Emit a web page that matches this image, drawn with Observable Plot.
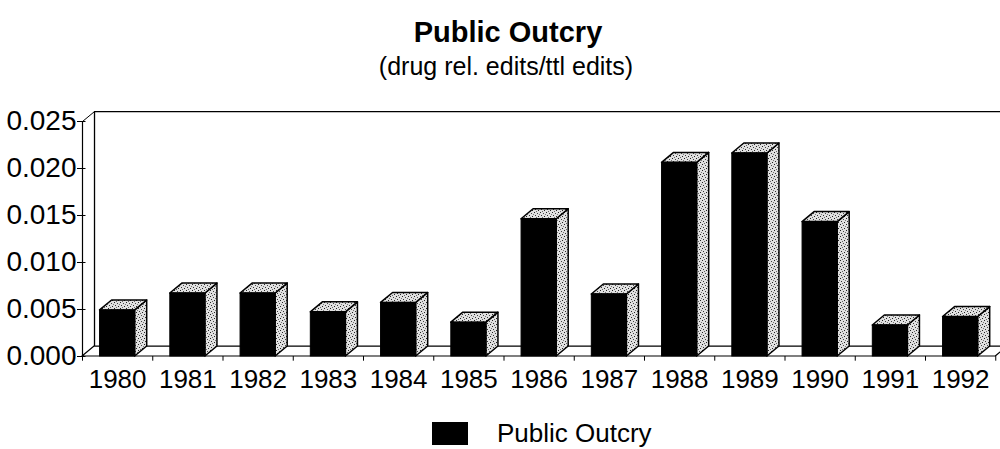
<!DOCTYPE html>
<html>
<head>
<meta charset="utf-8">
<script src="https://cdn.jsdelivr.net/npm/d3@7"></script>
<script src="https://cdn.jsdelivr.net/npm/@observablehq/plot@0.6"></script>
<style>
  html, body { margin: 0; padding: 0; background: #fff; }
  body { width: 1000px; height: 449px; position: relative; overflow: hidden; font-family: "Liberation Sans", Arial, sans-serif; color: #000; }
  .title { position: absolute; left: 8px; width: 1000px; text-align: center; line-height: 1; white-space: nowrap; }
  #t1 { top: 18px; font-size: 29px; font-weight: bold; }
  #t2 { top: 54px; font-size: 25px; left: 6px; }
  #chart { position: absolute; left: 0; top: 80px; }
  #legend { position: absolute; left: 432px; top: 420px; display: flex; align-items: center; font-size: 26px; line-height: 1; }
  #legend .sw { width: 36px; height: 23px; background: #000; margin-right: 29px; }
</style>
</head>
<body>
<svg width="0" height="0" style="position:absolute">
  <defs>
    <pattern id="stipple" width="6" height="6" patternUnits="userSpaceOnUse">
      <rect width="6" height="6" fill="#e0e0e0"/>
      <rect x="0" y="0" width="1" height="1" fill="#222"/>
      <rect x="3" y="1" width="1" height="1" fill="#444"/>
      <rect x="1" y="3" width="1" height="1" fill="#333"/>
      <rect x="4" y="4" width="1" height="1" fill="#222"/>
      <rect x="5" y="2" width="1" height="1" fill="#777"/>
      <rect x="2" y="5" width="1" height="1" fill="#666"/>
    </pattern>
  </defs>
</svg>
<div class="title" id="t1">Public Outcry</div>
<div class="title" id="t2">(drug rel. edits/ttl edits)</div>
<div id="chart"></div>
<div id="legend"><div class="sw"></div><span>Public Outcry</span></div>
<script>
// ---- data ----
const years = [1980, 1981, 1982, 1983, 1984, 1985, 1986, 1987, 1988, 1989, 1990, 1991, 1992];
const values = [0.0049, 0.0067, 0.0067, 0.0047, 0.0057, 0.0036, 0.0146, 0.0066, 0.0206, 0.0216, 0.0143, 0.0033, 0.0042];
const yTicks = [0, 0.005, 0.010, 0.015, 0.020, 0.025];
const seriesName = "Public Outcry";

// ---- 3D look parameters (in data units) ----
const half = 0.25;       // half width of the front face (years)
const DX = 0.171;        // depth shift in x (years)
const DY = 0.00106;      // depth shift in y (value units)
const x0 = years[0] - 0.5, x1 = years[years.length - 1] + 0.5, yMax = 0.025;

const bars = years.map((year, i) => ({year, value: values[i]}));
const sideFaces = bars.flatMap((d, i) => [
  {i, x: d.year + half, y1: 0, y2: d.value},
  {i, x: d.year + half + DX, y1: DY, y2: d.value + DY}
]);
const topFaces = bars.flatMap((d, i) => [
  {i, y: d.value, x1: d.year - half, x2: d.year + half},
  {i, y: d.value + DY, x1: d.year - half + DX, x2: d.year + half + DX}
]);
const floor = [
  {y: 0, x1: x0, x2: x1},
  {y: DY, x1: x0 + DX, x2: x1 + DX}
];
const backLeft = [{x: x0 + DX, y: DY}, {x: x0 + DX, y: yMax + DY}, {x: x1 + DX + 0.2, y: yMax + DY}];
const topDiag = [{x: x0, y: yMax}, {x: x0 + DX, y: yMax + DY}];
const bounds = d3.range(years.length + 1).map(k => x0 + k);

const chart = Plot.plot({
  width: 1000,
  height: 330,
  marginLeft: 82,
  marginRight: 4.75,
  marginTop: 41,
  marginBottom: 54,
  style: {fontFamily: "Liberation Sans, Arial, sans-serif", color: "#000", background: "transparent"},
  x: {domain: [x0, x1]},
  y: {domain: [0, yMax]},
  marks: [
    // back wall edges
    Plot.line(backLeft, {x: "x", y: "y", stroke: "#000", strokeWidth: 1.3}),
    Plot.line(topDiag, {x: "x", y: "y", stroke: "#000", strokeWidth: 1}),
    // floor
    Plot.areaX(floor, {y: "y", x1: "x1", x2: "x2", fill: "#fff", stroke: "#000", strokeWidth: 1.2}),
    // category ticks on the front floor edge
    Plot.ruleX(bounds, {y1: 0, y2: -0.0005, stroke: "#000"}),
    // y axis line and right-side tick stubs
    Plot.ruleX([x0], {y1: 0, y2: yMax, stroke: "#000", strokeWidth: 1.2}),
    Plot.ruleY(yTicks, {x1: x0, x2: x0 + 0.05, stroke: "#000"}),
    // bars: side faces, top faces, front faces
    Plot.areaY(sideFaces, {x: "x", y1: "y1", y2: "y2", z: "i", fill: "url(#stipple)", stroke: "#000", strokeWidth: 1.5, strokeLinejoin: "round"}),
    Plot.areaX(topFaces, {y: "y", x1: "x1", x2: "x2", z: "i", fill: "url(#stipple)", stroke: "#000", strokeWidth: 1.5, strokeLinejoin: "round"}),
    Plot.rectY(bars, {x1: d => d.year - half, x2: d => d.year + half, y1: 0, y2: "value", fill: "#000", stroke: "#000", strokeWidth: 1}),
    // axes
    Plot.axisY({ticks: yTicks, tickFormat: d3.format(".3f"), tickSize: 5, tickPadding: 1, fontSize: 28, label: null, stroke: "#000"}),
    Plot.axisX({ticks: years, tickFormat: d => String(d), tickSize: 0, tickPadding: 13, fontSize: 26, label: null})
  ]
});
document.getElementById("chart").appendChild(chart);
</script>
</body>
</html>
